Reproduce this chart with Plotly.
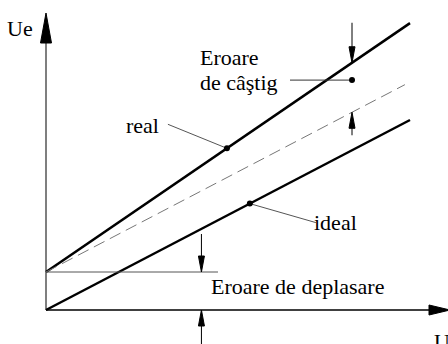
import plotly.graph_objects as go

# ---- data (abstract units) ----
ui_end = 10.0            # end of input range drawn
ui_dash_end = 9.86
offset = 1.0             # offset error (Ue at Ui = 0 for real characteristic)
gain_ideal = 0.5
gain_real = 0.655
ideal_dot_ui = 5.6
real_dot_ui = 4.97
gain_err_ui = 8.407      # where gain error is marked
gain_err_dot = 6.05
offset_err_ui = 4.27
offset_line_end = 4.725

# pixel scale of the units (for arrowhead sizes)
SX = 36.4
SY = 38.0
X_RANGE = [-46 / SX, 402 / SX]
Y_RANGE = [-34 / SY, 310 / SY]

fig = go.Figure()

def line(xs, ys, color="black", width=1.0, dash="solid"):
    fig.add_trace(go.Scatter(x=xs, y=ys, mode="lines",
                             line=dict(color=color, width=width, dash=dash),
                             hoverinfo="skip", showlegend=False))

def head(tx, ty, direction, length_px, width_px, color="black"):
    L = length_px
    W = width_px / 2
    if direction == "up":
        xs = [tx, tx - W / SX, tx + W / SX, tx]
        ys = [ty, ty - L / SY, ty - L / SY, ty]
    elif direction == "down":
        xs = [tx, tx - W / SX, tx + W / SX, tx]
        ys = [ty, ty + L / SY, ty + L / SY, ty]
    else:  # right
        xs = [tx, tx - L / SX, tx - L / SX, tx]
        ys = [ty, ty + W / SY, ty - W / SY, ty]
    fig.add_trace(go.Scatter(x=xs, y=ys, mode="lines", fill="toself",
                             fillcolor=color, line=dict(color=color, width=1),
                             hoverinfo="skip", showlegend=False))

# axes
y_top = Y_RANGE[1] - 13 / SY
x_right = X_RANGE[1] + 2 / SX
line([0, 0], [0, y_top - 20 / SY], color="#555555", width=1.5)
head(0, y_top, "up", 30, 11)
line([0, x_right - 15 / SX], [0, 0], color="black", width=1.5)
head(x_right, 0, "right", 21, 10)

# characteristics
line([0, ui_end], [0, gain_ideal * ui_end], width=2.5)
line([0, ui_end], [offset, offset + gain_real * ui_end], width=2.5)
line([0, ui_dash_end], [offset, offset + gain_ideal * ui_dash_end],
     color="#777777", width=1, dash="12px,6px")

# offset error marks
line([0, offset_line_end], [offset, offset], color="#555555", width=1)
line([offset_err_ui, offset_err_ui], [offset + 38 / SY, offset + 14 / SY])
head(offset_err_ui, offset, "down", 16, 6)
line([offset_err_ui, offset_err_ui], [Y_RANGE[0] - 1, -14 / SY])
head(offset_err_ui, 0, "up", 16, 6)

# gain error marks
y_real_g = offset + gain_real * gain_err_ui
y_dash_g = offset + gain_ideal * gain_err_ui
line([gain_err_ui, gain_err_ui], [y_real_g + 40 / SY, y_real_g + 14 / SY])
head(gain_err_ui, y_real_g, "down", 16, 6)
line([gain_err_ui, gain_err_ui], [y_dash_g - 23 / SY, y_dash_g - 14 / SY])
head(gain_err_ui, y_dash_g, "up", 16, 6)
line([gain_err_ui - 62 / SX, gain_err_ui], [gain_err_dot, gain_err_dot], color="#333333", width=1)

# leaders
y_real_dot = offset + gain_real * real_dot_ui
y_ideal_dot = gain_ideal * ideal_dot_ui
line([real_dot_ui - 59 / SX, real_dot_ui], [y_real_dot + 24 / SY, y_real_dot], color="#555555", width=1)
line([ideal_dot_ui, ideal_dot_ui + 66 / SX], [y_ideal_dot, y_ideal_dot - 19 / SY], color="#555555", width=1)

# dots
fig.add_trace(go.Scatter(x=[real_dot_ui, ideal_dot_ui, gain_err_ui],
                         y=[y_real_dot, y_ideal_dot, gain_err_dot],
                         mode="markers", marker=dict(color="black", size=6),
                         hoverinfo="skip", showlegend=False))

F = dict(family="Liberation Serif, Times New Roman, serif", size=22, color="black")

def text(s, xpx, ypx, xanchor="left"):
    fig.add_annotation(x=X_RANGE[0] + xpx / SX, y=Y_RANGE[1] - ypx / SY, text=s,
                       showarrow=False, xanchor=xanchor, yanchor="middle", font=F)

text("Ue", 5, 28)
text("Ui", 432, 341)
text("Eroare", 198, 57)
text("de câştig", 198, 82)
text("real", 124, 125)
text("ideal", 312, 222)
text("Eroare de deplasare", 209, 286)

fig.update_layout(width=448, height=344, margin=dict(l=0, r=0, t=0, b=0),
                  plot_bgcolor="white", paper_bgcolor="white",
                  xaxis=dict(range=X_RANGE, visible=False, fixedrange=True),
                  yaxis=dict(range=Y_RANGE, visible=False, fixedrange=True))

fig.write_html("out.html", config=dict(displayModeBar=False),
               post_script="document.body.style.margin='0';")
